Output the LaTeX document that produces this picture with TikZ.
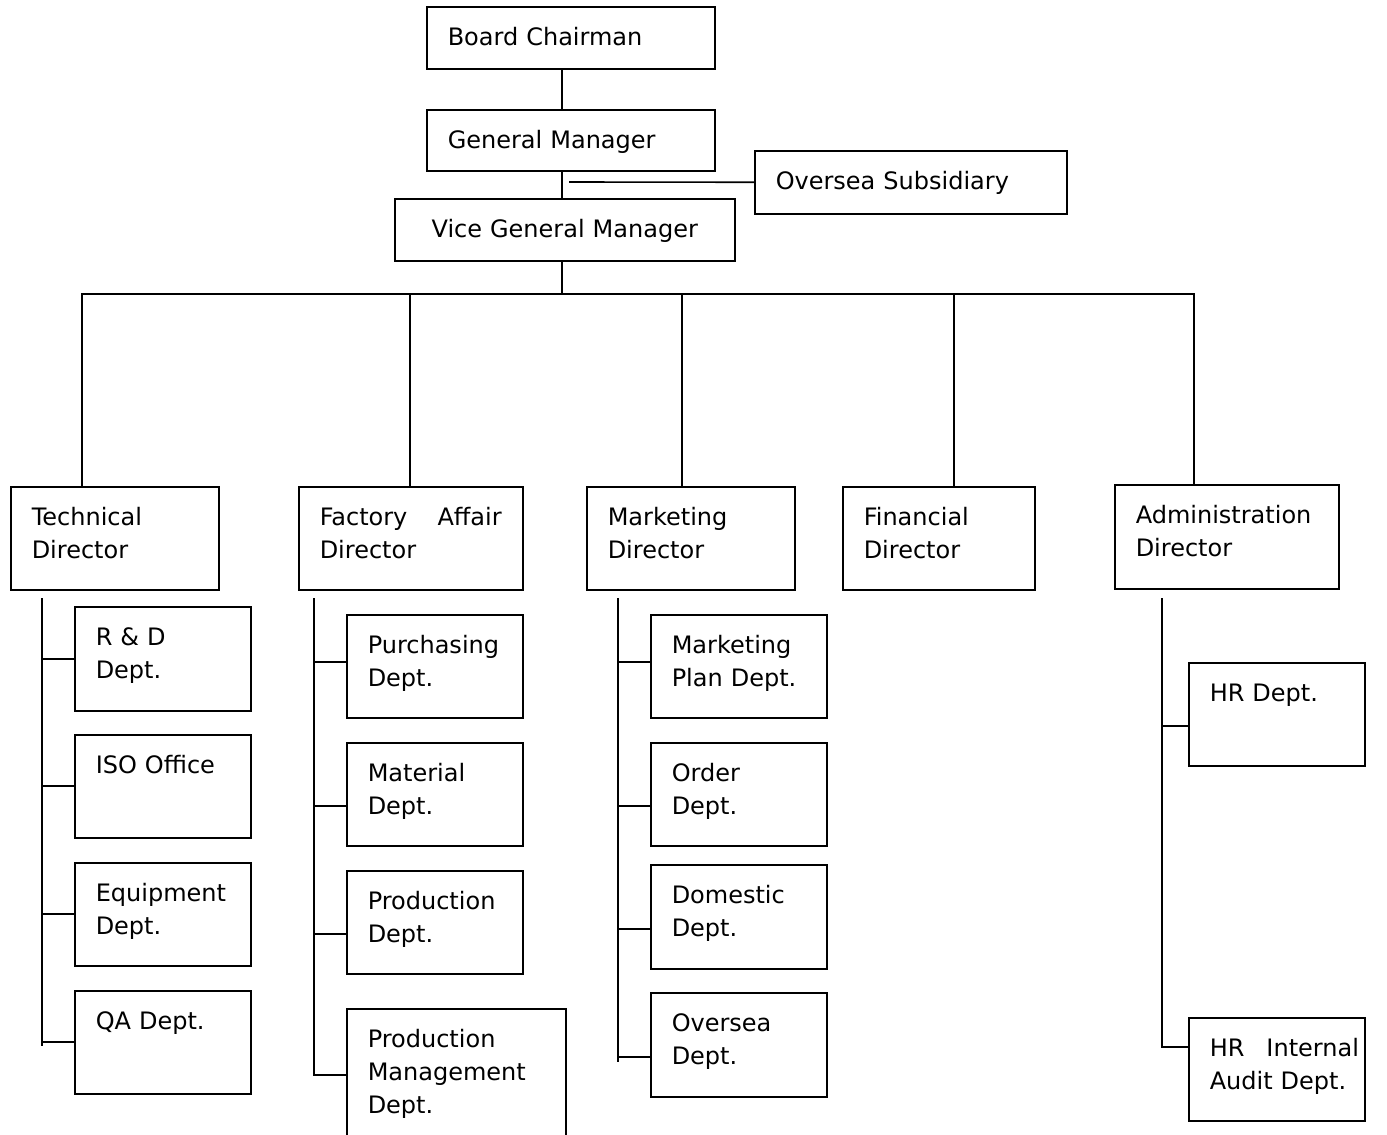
\documentclass[tikz,border=0pt]{standalone}
\usepackage{fontspec}
\setmainfont{DejaVu Sans}

\tikzset{
  unit/.style={draw, line width=1.5pt, anchor=north west, inner xsep=21pt, inner ysep=0pt,
    align=left, text height=39pt, font=\fontsize{24}{33}\selectfont},
  link/.style={line width=1.6pt}
}

\begin{document}
\begin{tikzpicture}[x=1pt,y=-1pt]
			\clip (0,0) rectangle (1387,1135);

			% top of the chart
			\node[unit, text width=246pt, text depth=23pt] (bc) at (426,6) {Board Chairman};
			\node[unit, text width=246pt, text depth=22pt] (gm) at (426,109) {General Manager};
			\node[unit, text width=270pt, text depth=24pt] (os) at (754,150) {Oversea Subsidiary};
			\node[unit, align=center, text width=298pt, text depth=23pt] (vgm) at (394,198) {Vice General Manager};

			% directors
			\node[unit, text width=166pt, text depth=64pt] (tech) at (10,486) {Technical\\Director};
			\node[unit, text width=182pt, text depth=64pt] (fact) at (298,486) {Factory\hfill Affair\\Director};
			\node[unit, text width=166pt, text depth=64pt] (mkt) at (586,486) {Marketing\\Director};
			\node[unit, text width=150pt, text depth=64pt] (fin) at (842,486) {Financial\\Director};
			\node[unit, text width=182pt, text depth=65pt] (adm) at (1114,484) {Administration\\Director};

			% departments
			\node[unit, text width=134pt, text depth=65pt] (rd) at (74,606) {R \& D\\Dept.};
			\node[unit, text width=134pt, text depth=64pt] (iso) at (74,734) {ISO Office};
			\node[unit, text width=134pt, text depth=64pt] (equip) at (74,862) {Equipment\\Dept.};
			\node[unit, text width=134pt, text depth=64pt] (qa) at (74,990) {QA Dept.};

			\node[unit, text width=134pt, text depth=64pt] (purch) at (346,614) {Purchasing\\Dept.};
			\node[unit, text width=134pt, text depth=64pt] (mat) at (346,742) {Material\\Dept.};
			\node[unit, text width=134pt, text depth=64pt] (prod) at (346,870) {Production\\Dept.};
			\node[unit, text width=177pt, text depth=103pt] (pmgmt) at (346,1008) {Production\\Management\\Dept.};

			\node[unit, text width=134pt, text depth=64pt] (mplan) at (650,614) {Marketing\\Plan Dept.};
			\node[unit, text width=134pt, text depth=64pt] (order) at (650,742) {Order\\Dept.};
			\node[unit, text width=134pt, text depth=65pt] (dom) at (650,864) {Domestic\\Dept.};
			\node[unit, text width=134pt, text depth=65pt] (ovs) at (650,992) {Oversea\\Dept.};

			\node[unit, text width=134pt, text depth=64pt] (hr) at (1188,662) {HR Dept.};
			\node[unit, text width=134pt, text depth=64pt] (audit) at (1188,1017) {\mbox{HR\hspace{22pt}Internal}\\\mbox{Audit Dept.}};

			% connectors
			\coordinate (spine) at (562,294);
			\coordinate (osend) at (569,182);
			\coordinate (d1) at (82,294);
			\coordinate (d2) at (410,294);
			\coordinate (d3) at (682,294);
			\coordinate (d4) at (954,294);
			\coordinate (d5) at (1194,294);

			\draw[link] (bc.south -| spine) -- (gm.north -| spine);
			\draw[link] (gm.south -| spine) -- (vgm.north -| spine);
			\draw[link] (os.west) -- (osend);
			\draw[link] (vgm.south -| spine) -- (spine);
			\draw[link] (d1 |- tech.north) -- (d1) -- (d5) -- (d5 |- adm.north);
			\draw[link] (d2) -- (d2 |- fact.north);
			\draw[link] (d3) -- (d3 |- mkt.north);
			\draw[link] (d4) -- (d4 |- fin.north);

			\coordinate (tb) at (42,598);
			\coordinate (te) at (42,1046);
			\coordinate (fb) at (314,598);
			\coordinate (fe) at (314,1076);
			\coordinate (mb) at (618,598);
			\coordinate (me) at (618,1062);
			\coordinate (ab) at (1162,598);
			\coordinate (ak) at ([yshift=22pt]audit.west);

			\draw[link] (tb) -- (te);
			\draw[link] (tb |- rd.west) -- (rd.west);
			\draw[link] (tb |- iso.west) -- (iso.west);
			\draw[link] (tb |- equip.west) -- (equip.west);
			\draw[link] (tb |- qa.west) -- (qa.west);

			\draw[link] (fb) -- (fe);
			\draw[link] ([yshift=4pt]purch.west) -- +(-32,0);
			\draw[link] ([yshift=-12pt]mat.west) -- +(-32,0);
			\draw[link] ([yshift=-12pt]prod.west) -- +(-32,0);
			\draw[link] ([yshift=5pt]pmgmt.west) -- +(-32,0);

			\draw[link] (mb) -- (me);
			\draw[link] ([yshift=4pt]mplan.west) -- +(-32,0);
			\draw[link] ([yshift=-12pt]order.west) -- +(-32,0);
			\draw[link] ([yshift=-12pt]dom.west) -- +(-32,0);
			\draw[link] ([yshift=-12pt]ovs.west) -- +(-32,0);

			\draw[link] (ab) -- (ab |- ak) -- (ak);
			\draw[link] ([yshift=-12pt]hr.west) -- +(-26,0);
		\end{tikzpicture}
\end{document}
